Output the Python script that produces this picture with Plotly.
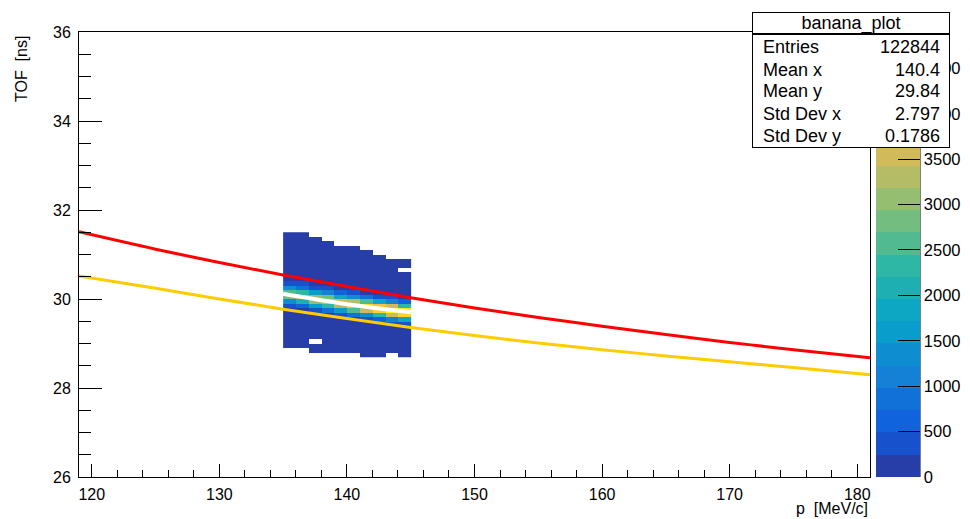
import plotly.graph_objects as go

# ---- 2D histogram: TOF vs momentum ----
p_edges = [135, 136, 137, 138, 139, 140, 141, 142, 143, 144, 145]
tof_edges = [28.7, 28.8, 28.9, 29.0, 29.1, 29.2, 29.3, 29.4, 29.5, 29.6,
             29.7, 29.8, 29.9, 30.0, 30.1, 30.2, 30.3, 30.4, 30.5, 30.6,
             30.7, 30.8, 30.9, 31.0, 31.1, 31.2, 31.3, 31.4, 31.5]

# bin contents, one list per momentum bin, from the lowest TOF bin upward (None = empty)
N = None
counts_by_p = [
    [N, N, 25, 30, 30, 35, 40, 45, 55, 80, 160, 380, 1450, 2800, 2650, 1300, 330, 130, 70, 50, 45, 40, 35, 30, 30, 25, 20, 15],
    [N, N, 20, 30, 35, 35, 40, 50, 60, 90, 200, 720, 2100, 3200, 2400, 900, 250, 110, 65, 50, 45, 40, 35, 30, 25, 25, 20, 15],
    [N, 20, 25, N, 35, 40, 45, 55, 75, 150, 390, 1580, 3160, 3160, 1580, 390, 150, 80, 60, 50, 40, 35, 30, 30, 25, 20, 15, N],
    [N, 20, 25, 30, 35, 40, 50, 60, 100, 230, 790, 2400, 3640, 2760, 1040, 300, 120, 70, 55, 45, 40, 35, 30, 25, 20, 15, N, N],
    [N, 20, 25, 30, 35, 40, 50, 70, 150, 370, 1580, 3400, 3640, 1950, 520, 180, 90, 60, 50, 40, 35, 30, 25, 20, 15, N, N, N],
    [N, 20, 25, 30, 35, 45, 60, 90, 160, 750, 2460, 4030, 3240, 1320, 380, 130, 75, 55, 45, 40, 35, 30, 25, 20, 15, N, N, N],
    [15, 20, 25, 30, 40, 50, 65, 110, 300, 1400, 3440, 4280, 2610, 800, 180, 90, 60, 50, 40, 35, 30, 25, 20, 15, N, N, N, N],
    [15, 20, 25, 35, 45, 55, 80, 150, 620, 2300, 4300, 4010, 1870, 440, 140, 75, 55, 45, 40, 30, 25, 20, 15, N, N, N, N, N],
    [N, 20, 30, 35, 45, 60, 110, 300, 1220, 3460, 4900, 3460, 1220, 300, 110, 65, 50, 40, 35, 30, 25, 20, N, N, N, N, N, N],
    [15, 20, 30, 35, 45, 70, 170, 450, 1950, 4190, 4490, 2400, 640, 180, 90, 60, 45, 40, 30, N, 25, 20, N, N, N, N, N, N],
]
z_max = 4900

# ---- expected TOF curves and fitted band centre ----
p_curve = [119, 125, 130, 135, 140, 145, 150, 155, 160, 165, 170, 175, 181]
tof_red = [31.51, 31.12, 30.82, 30.54, 30.28, 30.03, 29.80, 29.585, 29.39, 29.20, 29.025, 28.86, 28.68]
tof_gold = [30.52, 30.24, 30.00, 29.77, 29.56, 29.36, 29.18, 29.01, 28.86, 28.72, 28.59, 28.46, 28.30]
p_fit = [135, 137, 139.6, 142.2, 145]
tof_fit = [30.12, 30.02, 29.90, 29.80, 29.70]

# ---- statistics box ----
stats_title = "banana_plot"
stats_labels = ["Entries", "Mean x", "Mean y", "Std Dev x", "Std Dev y"]
stats_values = ["122844", "140.4", "29.84", "2.797", "0.1786"]

FONT = "Liberation Sans, Arial, Helvetica, sans-serif"

# ---- kBird palette with 20 discrete contour levels ----
stops = [0.0, 0.125, 0.25, 0.375, 0.5, 0.625, 0.75, 0.875, 1.0]
red = [0.2082, 0.0592, 0.0780, 0.0232, 0.1802, 0.5301, 0.8186, 0.9956, 0.9764]
green = [0.1664, 0.3599, 0.5041, 0.6419, 0.7178, 0.7492, 0.7328, 0.7862, 0.9832]
blue = [0.5293, 0.8684, 0.8385, 0.7914, 0.6425, 0.4662, 0.3499, 0.1968, 0.0539]


def bird(f):
    for j in range(len(stops) - 1):
        if f <= stops[j + 1]:
            t = (f - stops[j]) / (stops[j + 1] - stops[j])
            rgb = [c[j] + t * (c[j + 1] - c[j]) for c in (red, green, blue)]
            return "rgb(%d,%d,%d)" % tuple(round(255 * v) for v in rgb)
    return "rgb(%d,%d,%d)" % (round(255 * red[-1]), round(255 * green[-1]), round(255 * blue[-1]))


n_levels = 20
colorscale = []
for i in range(n_levels):
    col = bird(int((i + 0.99) * 255 / n_levels) / 254)
    colorscale.append([i / n_levels, col])
    colorscale.append([(i + 1) / n_levels, col])

z = [list(row) for row in zip(*counts_by_p)]

# plot-area geometry (pixels) used to place paper-referenced items
W, H = 970, 519
ML, MR, MT, MB = 79, 100, 32, 42
PW, PH = W - ML - MR, H - MT - MB


def px(x):
    return (x - ML) / PW


def py(y):
    return 1 - (y - MT) / PH


fig = go.Figure()
fig.add_trace(go.Heatmap(
    x=p_edges, y=tof_edges, z=z,
    zmin=0, zmax=z_max, colorscale=colorscale, zsmooth=False,
    hoverongaps=False,
    colorbar=dict(
        x=px(876), xanchor="left", xpad=0, y=0.5, yanchor="middle", ypad=0,
        len=1, lenmode="fraction", thickness=44, outlinewidth=0,
        ticks="inside", ticklen=22, tickwidth=1, tickcolor="black",
        tick0=0, dtick=500,
        tickfont=dict(family=FONT, size=16.5, color="black"),
    ),
))
fig.add_trace(go.Scatter(x=p_fit, y=tof_fit, mode="lines",
                         line=dict(color="white", width=4, shape="spline"), showlegend=False))
fig.add_trace(go.Scatter(x=p_curve, y=tof_red, mode="lines",
                         line=dict(color="#ff0000", width=3, shape="spline"), showlegend=False))
fig.add_trace(go.Scatter(x=p_curve, y=tof_gold, mode="lines",
                         line=dict(color="#ffcc00", width=3, shape="spline"), showlegend=False))

axis_common = dict(showline=True, linecolor="black", linewidth=1, mirror=True,
                   showgrid=False, zeroline=False, ticks="inside", tickcolor="black",
                   tickfont=dict(family=FONT, size=16, color="black"))
fig.update_xaxes(range=[119, 181], tick0=120, dtick=10, ticklen=13,
                 minor=dict(tick0=120, dtick=2, ticklen=7, ticks="inside", tickcolor="black", showgrid=False),
                 ticklabelstandoff=3, **axis_common)
fig.update_yaxes(range=[26, 36], tick0=26, dtick=2, ticklen=23,
                 minor=dict(tick0=26, dtick=0.5, ticklen=12, ticks="inside", tickcolor="black", showgrid=False),
                 ticklabelstandoff=4, **axis_common)

# palette axis line
fig.add_shape(type="line", xref="paper", yref="paper", x0=px(920), x1=px(920), y0=0, y1=1,
              line=dict(color="black", width=1), layer="above")

ann = []
# axis titles
ann.append(dict(text="p \u00a0[MeV/c]", xref="paper", yref="paper", x=1.0, y=py(509),
                xanchor="right", yanchor="middle", showarrow=False,
                font=dict(family=FONT, size=16, color="black")))
ann.append(dict(text="TOF \u00a0[ns]", xref="paper", yref="paper", x=px(22), y=py(34),
                xanchor="center", yanchor="top", textangle=-90, showarrow=False,
                font=dict(family=FONT, size=16, color="black")))

# statistics box: title cell and body cell
box_l, box_r, box_t, box_sep, box_b = 752, 950, 13, 34, 148
box_cx = (box_l + box_r) / 2
ann.append(dict(text=stats_title, xref="paper", yref="paper", x=px(box_cx), y=py((box_t + box_sep) / 2),
                xanchor="center", yanchor="middle", showarrow=False,
                width=box_r - box_l - 2, height=box_sep - box_t - 1, borderpad=0,
                bgcolor="white", bordercolor="black", borderwidth=1,
                font=dict(family=FONT, size=18, color="black")))
ann.append(dict(text=" ", xref="paper", yref="paper", x=px(box_cx), y=py((box_sep + box_b) / 2),
                xanchor="center", yanchor="middle", showarrow=False,
                width=box_r - box_l - 2, height=box_b - box_sep - 2, borderpad=0,
                bgcolor="white", bordercolor="black", borderwidth=1,
                font=dict(family=FONT, size=18, color="black")))
row_y = [47, 69.5, 91, 114, 136]
for lab, val, yy in zip(stats_labels, stats_values, row_y):
    ann.append(dict(text=lab, xref="paper", yref="paper", x=px(761), y=py(yy),
                    xanchor="left", yanchor="middle", showarrow=False,
                    font=dict(family=FONT, size=18, color="black")))
    ann.append(dict(text=val, xref="paper", yref="paper", x=px(942), y=py(yy),
                    xanchor="right", yanchor="middle", showarrow=False,
                    font=dict(family=FONT, size=18, color="black")))

fig.update_layout(
    width=W, height=H,
    margin=dict(l=ML, r=MR, t=MT, b=MB, autoexpand=False),
    paper_bgcolor="white", plot_bgcolor="white",
    showlegend=False, annotations=ann,
    font=dict(family=FONT, color="black"),
)

fig.write_html("out.html")
